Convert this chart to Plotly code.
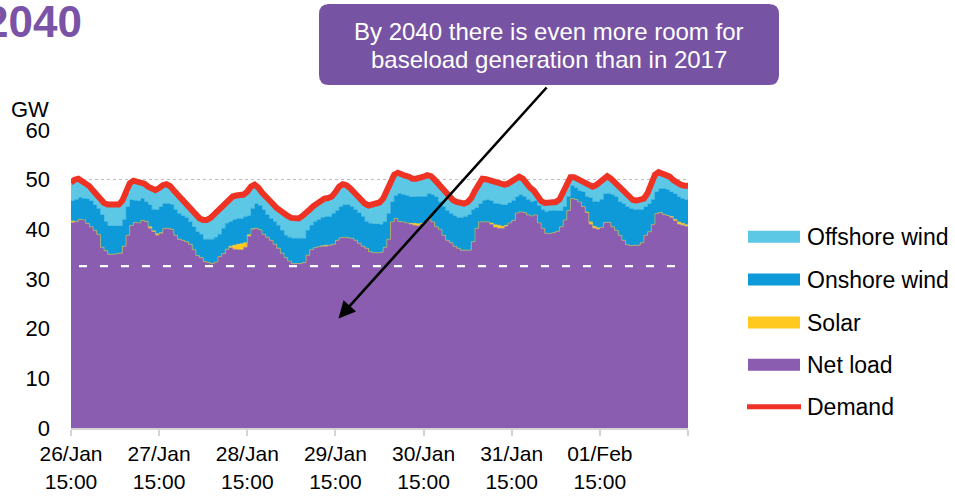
import pandas as pd
import plotly.graph_objects as go

# ---------------- data (GW, hourly from 26/Jan 15:00) ----------------
start = "2040-01-26 15:00"
n_hours = 169

net_load = [41.4,41.6,42.0,41.9,41.2,40.5,39.8,39.0,36.4,35.7,
            35.0,35.0,35.1,35.2,36.6,38.8,40.8,41.4,41.3,41.8,
            41.6,40.2,39.5,38.8,39.2,40.2,40.2,40.0,38.8,38.0,
            37.8,37.5,37.0,35.9,34.7,34.3,33.5,33.3,33.1,33.4,
            34.5,35.1,36.0,36.3,36.0,35.9,35.9,36.4,38.6,40.0,
            40.2,39.9,39.0,38.4,37.8,37.0,36.2,35.2,34.3,33.6,
            33.1,33.1,33.1,33.3,34.8,35.9,36.3,36.5,36.6,36.6,
            36.8,37.0,37.8,38.3,38.4,38.3,38.2,37.8,37.2,36.6,
            36.2,35.5,35.3,35.3,35.4,36.4,38.0,41.5,42.2,41.6,
            41.5,41.3,41.0,40.8,40.7,41.0,41.5,42.0,41.5,40.5,
            40.0,38.8,37.8,37.3,36.6,36.2,35.8,35.8,35.8,37.5,
            40.2,41.5,41.5,41.5,41.0,40.4,40.2,40.2,40.6,41.3,
            41.8,43.3,43.5,43.4,42.9,42.7,42.9,41.3,40.2,39.2,
            39.2,39.3,39.6,40.5,41.9,43.8,46.2,46.0,45.5,44.6,
            43.3,41.0,40.2,40.0,40.4,41.4,41.4,40.5,39.8,38.8,
            37.8,36.9,36.7,36.8,36.8,37.3,38.8,39.5,41.0,43.2,
            43.4,43.0,42.8,42.4,41.7,41.0,40.8,40.6,40.6]

solar = [0.3,0,0,0,0,0,0,0,0,0,
         0,0,0,0,0,0,0,0,0,0,
         0,0.3,0.2,0.3,0.1,0,0,0,0,0,
         0,0,0,0,0,0,0,0,0,0,
         0,0,0,0.3,0.8,1.1,1.2,0.9,0.3,0.1,
         0,0,0,0,0,0,0,0,0,0,
         0,0,0,0,0,0,0,0,0.1,0.2,
         0,0,0,0,0,0,0,0,0,0,
         0,0,0,0,0,0,0,0,0,0,
         0,0,0.2,0.4,0.4,0.2,0,0,0,0,
         0,0,0,0,0,0,0,0,0,0,
         0,0,0,0,0.3,0.5,0.6,0.4,0.2,0,
         0,0,0,0,0,0,0,0,0,0,
         0,0,0,0,0,0,0,0,0,0,
         0.2,0.5,0.4,0.3,0,0,0,0,0,0,
         0,0,0,0,0,0,0,0,0,0,
         0,0,0,0.2,0.3,0.5,0.4,0.3,0.2]

onshore_wind = [4.0,4.4,4.4,4.3,4.9,5.2,5.1,5.2,6.5,5.8,
                5.7,5.7,5.6,5.5,5.3,5.7,5.1,4.4,4.4,4.4,
                3.9,4.4,4.3,4.8,5.2,5.0,5.0,5.0,5.1,5.2,
                4.9,4.8,4.5,4.6,4.8,4.7,4.5,4.7,4.9,5.0,
                4.5,5.1,5.2,4.9,5.1,5.2,5.1,5.2,3.8,4.1,
                4.9,4.9,4.9,4.5,4.4,4.5,4.6,4.6,4.5,4.8,
                5.1,5.1,5.1,4.9,5.0,4.9,5.2,5.4,5.7,5.7,
                5.8,6.2,6.0,6.2,6.5,6.6,6.3,6.1,6.1,6.0,
                5.4,5.7,5.8,5.8,5.6,5.1,5.2,4.0,4.6,5.6,
                5.5,5.5,5.3,5.3,5.5,5.4,5.1,5.2,5.4,6.0,
                5.5,5.7,6.0,5.9,6.1,6.2,6.6,6.8,7.1,6.4,
                4.1,3.6,4.3,4.4,4.4,4.3,4.3,4.3,4.1,4.0,
                4.0,3.2,3.4,3.2,3.1,2.8,2.8,3.5,3.7,4.3,
                4.5,4.5,4.1,3.2,2.6,2.8,2.6,2.3,2.2,2.9,
                3.1,4.8,5.0,5.2,5.6,5.7,5.8,6.4,6.7,6.7,
                7.3,7.6,7.5,7.2,7.2,6.6,5.7,5.6,5.0,4.3,
                4.8,5.2,5.2,4.9,5.1,5.0,5.0,5.0,4.9]

offshore_wind = [3.7,4.0,3.8,3.6,3.1,3.0,2.9,2.6,3.0,3.8,
                 4.3,4.2,4.1,4.3,3.9,2.8,3.4,4.0,4.0,3.3,
                 3.7,3.7,4.2,4.0,3.8,3.7,3.9,3.7,3.9,3.8,
                 3.7,3.2,3.2,3.2,3.4,3.2,3.9,3.9,4.3,4.6,
                 5.0,4.3,4.2,4.6,4.7,4.6,4.7,4.5,4.9,4.4,
                 3.9,3.6,3.5,3.6,3.6,3.6,3.5,3.9,4.3,4.3,
                 4.1,4.0,4.0,4.5,3.4,3.2,3.2,3.4,3.4,3.7,
                 3.7,3.4,3.7,4.1,4.2,4.0,3.8,3.6,3.2,3.1,
                 3.6,3.6,4.0,4.0,4.4,4.7,4.6,4.1,4.2,4.2,
                 4.0,4.0,4.1,3.7,3.6,3.7,4.0,3.7,3.8,3.5,
                 3.6,3.7,3.7,3.4,3.2,3.1,2.8,2.6,2.6,2.4,
                 3.5,4.1,4.4,4.2,4.2,4.5,4.3,4.3,4.1,3.9,
                 3.9,3.9,3.7,3.6,3.2,2.9,2.1,1.7,1.8,1.8,
                 1.6,1.6,1.8,2.3,3.0,3.0,1.7,2.2,2.4,2.4,
                 2.8,2.6,3.0,3.4,3.6,3.3,3.5,3.3,3.0,3.4,
                 3.1,2.6,2.2,1.9,1.8,2.0,1.7,2.2,3.2,3.5,
                 3.3,3.1,3.0,3.1,2.8,2.8,2.8,2.9,3.1]

demand = [49.4,50.0,50.2,49.8,49.2,48.7,47.8,46.8,45.9,45.3,
          45.0,44.9,44.8,45.0,45.8,47.3,49.3,49.8,49.7,49.5,
          49.2,48.6,48.2,47.9,48.3,48.9,49.1,48.7,47.8,47.0,
          46.4,45.5,44.7,43.7,42.9,42.2,41.9,41.9,42.3,43.0,
          44.0,44.5,45.4,46.1,46.6,46.8,46.9,47.0,47.6,48.6,
          49.0,48.4,47.4,46.5,45.8,45.1,44.3,43.7,43.1,42.7,
          42.3,42.2,42.2,42.7,43.2,44.0,44.7,45.3,45.8,46.2,
          46.3,46.6,47.5,48.6,49.1,48.9,48.3,47.5,46.5,45.7,
          45.2,44.8,45.1,45.1,45.4,46.2,47.8,49.6,51.0,51.4,
          51.0,50.8,50.6,50.2,50.2,50.3,50.6,50.9,50.7,50.0,
          49.1,48.2,47.5,46.6,45.9,45.5,45.2,45.2,45.5,46.3,
          47.8,49.2,50.2,50.1,49.9,49.7,49.4,49.2,49.0,49.2,
          49.7,50.4,50.6,50.2,49.2,48.4,47.8,46.5,45.7,45.3,
          45.3,45.4,45.5,46.0,47.5,49.6,50.5,50.5,50.1,49.9,
          49.4,48.9,48.6,48.9,49.6,50.4,50.7,50.2,49.5,48.9,
          48.2,47.1,46.4,45.9,45.8,45.9,46.2,47.3,49.2,51.0,
          51.5,51.3,51.0,50.6,49.9,49.3,49.0,48.8,48.8]

baseload_level = 32.6   # dashed white reference line (GW)

tick_labels = ["26/Jan<br>15:00", "27/Jan<br>15:00", "28/Jan<br>15:00",
               "29/Jan<br>15:00", "30/Jan<br>15:00", "31/Jan<br>15:00",
               "01/Feb<br>15:00", ""]

legend_names = ["Offshore wind", "Onshore wind", "Solar", "Net load", "Demand"]

title_text = "2040"
callout_lines = ["By 2040 there is even more room for",
                 "baseload generation than in 2017"]

# ---------------- styling ----------------
C_NET = "#8A5DB0"
C_SOLAR = "#FFC91F"
C_ON = "#0E9AD8"
C_OFF = "#5CC8E6"
C_DEM = "#EE3224"
C_BOX = "#7753A3"
C_TITLE = "#7A52A6"
FONT = "Arial, Liberation Sans, sans-serif"

times = pd.date_range(start, periods=n_hours, freq="h")
tick_vals = pd.date_range(start, periods=len(tick_labels), freq="24h")

W, H = 955, 497
L, R, T, B = 71, 688, 130, 428   # plot area in pixels


def px(xp):
    return (xp - L) / (R - L)


def py(yp):
    return (B - yp) / (B - T)


fig = go.Figure()
stack = [("Net load", net_load, C_NET), ("Solar", solar, C_SOLAR),
         ("Onshore wind", onshore_wind, C_ON), ("Offshore wind", offshore_wind, C_OFF)]
for name, vals, col in stack:
    fig.add_trace(go.Scatter(
        x=times, y=vals, name=name, stackgroup="one", mode="lines",
        line=dict(shape="hv", width=0.5, color=col), fillcolor=col,
        showlegend=False, hoverinfo="skip"))

fig.add_trace(go.Scatter(
    x=times, y=demand, name="Demand", mode="lines",
    line=dict(shape="linear", width=6, color=C_DEM), showlegend=False,
    hoverinfo="skip"))

# dashed baseload line
fig.add_shape(type="line", xref="x", yref="y",
              x0=times[0] + pd.Timedelta(minutes=130), x1=times[-1],
              y0=baseload_level, y1=baseload_level,
              line=dict(color="white", width=2.2, dash="8px,13px"))

# callout box (rounded rectangle)
bx0, bx1, by0, by1 = px(319), px(779), py(85), py(4)
rx, ry = 10 / (R - L), 10 / (B - T)
path = (f"M {bx0+rx},{by1} L {bx1-rx},{by1} Q {bx1},{by1} {bx1},{by1-ry} "
        f"L {bx1},{by0+ry} Q {bx1},{by0} {bx1-rx},{by0} "
        f"L {bx0+rx},{by0} Q {bx0},{by0} {bx0},{by0+ry} "
        f"L {bx0},{by1-ry} Q {bx0},{by1} {bx0+rx},{by1} Z")
fig.add_shape(type="path", xref="paper", yref="paper", path=path,
              fillcolor=C_BOX, line=dict(width=0), layer="above")

annotations = []
for i, line in enumerate(callout_lines):
    annotations.append(dict(
        xref="paper", yref="paper", x=px(549), y=py(31 + i * 28.5),
        text=line, showarrow=False, xanchor="center", yanchor="middle",
        font=dict(family=FONT, size=24, color="white")))

# arrow
annotations.append(dict(
    xref="paper", yref="paper", x=px(338.5), y=py(318.5), text="",
    showarrow=True, ax=548 - 338.5, ay=86 - 318.5, axref="pixel", ayref="pixel",
    arrowhead=2, arrowsize=1.3, arrowwidth=2.6, arrowcolor="black"))

# title
annotations.append(dict(
    xref="paper", yref="paper", x=px(84), y=py(21), text=f"<b>{title_text}</b>",
    showarrow=False, xanchor="right", yanchor="middle",
    font=dict(family=FONT, size=44, color=C_TITLE)))

# unit label
annotations.append(dict(
    xref="paper", yref="paper", x=px(51), y=py(109), text="GW",
    showarrow=False, xanchor="right", yanchor="middle",
    font=dict(family=FONT, size=22, color="black")))

# manual legend
leg_y = [236.7, 279.5, 322.5, 364.7, 406.7]
leg_cols = [C_OFF, C_ON, C_SOLAR, C_NET, C_DEM]
for name, yc, col in zip(legend_names, leg_y, leg_cols):
    if name == "Demand":
        fig.add_shape(type="line", xref="paper", yref="paper",
                      x0=px(747), x1=px(801), y0=py(yc), y1=py(yc),
                      line=dict(color=col, width=5))
    else:
        fig.add_shape(type="rect", xref="paper", yref="paper",
                      x0=px(748), x1=px(800), y0=py(yc + 6), y1=py(yc - 6),
                      fillcolor=col, line=dict(width=0))
    annotations.append(dict(
        xref="paper", yref="paper", x=px(805), y=py(yc), text=name,
        showarrow=False, xanchor="left", yanchor="middle",
        font=dict(family=FONT, size=23, color="black")))

fig.update_layout(
    width=W, height=H, autosize=False,
    margin=dict(l=L, r=W - R, t=T, b=H - B, pad=0),
    paper_bgcolor="white", plot_bgcolor="white",
    font=dict(family=FONT, size=22, color="black"),
    annotations=annotations, showlegend=False,
)
fig.update_xaxes(
    range=[times[0], times[-1]], tickvals=list(tick_vals), ticktext=tick_labels,
    showgrid=False, showline=True, linecolor="#D4D4D4", linewidth=2,
    ticks="outside", ticklen=6, tickcolor="#D4D4D4", tickwidth=2,
    tickfont=dict(family=FONT, size=21, color="black"), automargin=False,
    zeroline=False)
fig.update_yaxes(
    range=[0, 60], tickvals=[0, 10, 20, 30, 40, 50, 60], showgrid=True,
    gridcolor="#BDBDBD", griddash="dot", gridwidth=1, showline=False,
    zeroline=False, ticks="", ticklabelstandoff=20,
    tickfont=dict(family=FONT, size=22, color="black"), automargin=False)

fig.write_html(
    "out.html",
    config={"displayModeBar": False},
    post_script="document.body.style.margin='0';document.body.style.overflow='hidden';")
